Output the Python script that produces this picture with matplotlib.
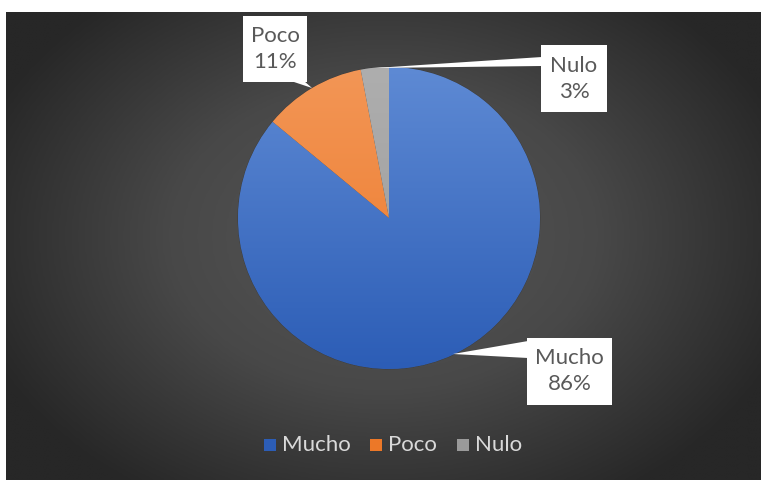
import matplotlib.pyplot as plt
import numpy as np
from matplotlib.patches import Rectangle, Polygon
from matplotlib.colors import LinearSegmentedColormap

plt.rcParams['font.family'] = ['Lato', 'DejaVu Sans']

# Data
labels = ["Mucho", "Poco", "Nulo"]
values = [86, 11, 3]
top_colors = ["#5E8AD4", "#F39656", "#AEAEAE"]
bottom_colors = ["#2C5DB6", "#EC7828", "#9A9A9A"]

W, H = 761, 480
fig = plt.figure(figsize=(W / 100, H / 100), dpi=100)
fig.patch.set_facecolor("white")
ax = fig.add_axes([0, 0, 1, 1])
ax.set_xlim(0, W)
ax.set_ylim(0, H)
ax.set_aspect("equal")
ax.axis("off")

# Radial background of the chart area
x0, x1, y0, y1 = 6, W, 0, H - 12
gx, gy = np.meshgrid(np.linspace(x0, x1, 400), np.linspace(y0, y1, 260))
cx, cy = (x0 + x1) / 2, (y0 + y1) / 2 + 10
r = np.sqrt(((gx - cx) / 430) ** 2 + ((gy - cy) / 310) ** 2)
bg = LinearSegmentedColormap.from_list("bg", ["#575757", "#484848", "#272727"])
ax.imshow(np.clip(r, 0, 1), cmap=bg, vmin=0, vmax=1, extent=[x0, x1, y0, y1],
          origin="lower", zorder=0, interpolation="bilinear")

# Pie
center = (389, H - 218)
radius = 151
wedges, _ = ax.pie(values, startangle=90, counterclock=False, center=center,
                   radius=radius, colors=top_colors, frame=True,
                   wedgeprops=dict(linewidth=0.6, edgecolor="#3a3a3a"))
ax.set_xlim(0, W)
ax.set_ylim(0, H)
ax.axis("off")

# vertical gradient fill inside each wedge
for w, ct, cb in zip(wedges, top_colors, bottom_colors):
    cm = LinearSegmentedColormap.from_list("g", [cb, ct])
    grad = np.linspace(0, 1, 256).reshape(-1, 1)
    im = ax.imshow(grad, cmap=cm, origin="lower", aspect="auto",
                   extent=[center[0] - radius, center[0] + radius,
                           center[1] - radius, center[1] + radius],
                   zorder=w.get_zorder() + 0.1, interpolation="bilinear")
    im.set_clip_path(w)

# Data label callouts: box (x0, x1, y0, y1 in image pixels) and tail polygon
boxes = {
    "Mucho": (527, 612, 338, 405),
    "Poco": (243, 307, 16, 82),
    "Nulo": (541, 607, 45, 112),
}
tails = {
    "Mucho": [(528, 341), (528, 358), (453, 354)],
    "Poco": [(291, 81), (304, 81), (312, 88)],
    "Nulo": [(542, 57), (542, 66), (375, 68)],
}
for lab, v in zip(labels, values):
    bx0, bx1, by0, by1 = boxes[lab]
    ax.add_patch(Polygon([(px, H - py) for px, py in tails[lab]], closed=True,
                         facecolor="white", edgecolor="none", zorder=5))
    ax.add_patch(Rectangle((bx0, H - by1), bx1 - bx0, by1 - by0,
                           facecolor="white", edgecolor="none", zorder=5))
    tx = (bx0 + bx1) / 2
    ty = H - (by0 + by1) / 2
    ax.text(tx, ty + 13, lab, ha="center", va="center", fontsize=16,
            color="#595959", zorder=6)
    ax.text(tx, ty - 13, f"{v}%", ha="center", va="center", fontsize=16,
            color="#595959", zorder=6)

# Legend along the bottom
leg_x = [264, 370, 457]
for lab, c, lx in zip(labels, bottom_colors, leg_x):
    ax.add_patch(Rectangle((lx, H - 451), 12, 12, facecolor=c,
                           edgecolor="none", zorder=5))
    ax.text(lx + 18, H - 445, lab, ha="left", va="center", fontsize=16,
            color="#d9d9d9", zorder=6)

fig.savefig("out.png", dpi=100, facecolor=fig.get_facecolor())
